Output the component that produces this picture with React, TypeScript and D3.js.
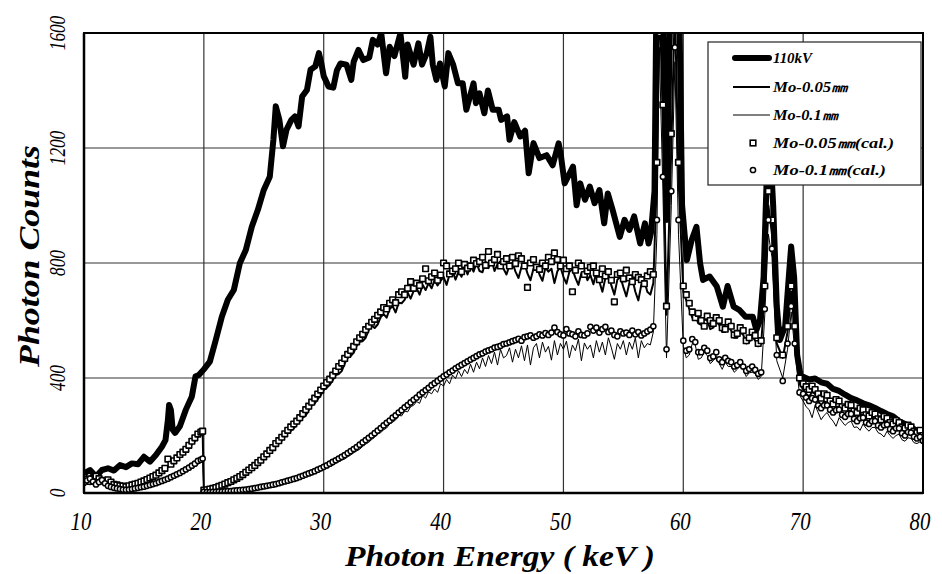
import React from 'react';
import * as d3 from 'd3';

// ---------- data ----------
const xTicks = [10, 20, 30, 40, 50, 60, 70, 80];
const yTicks = [0, 400, 800, 1200, 1600];

const energy110 = [
  10, 10.5, 11, 11.5, 12, 12.5, 13, 13.5, 14, 14.5, 15, 15.5, 16, 16.5, 16.8, 17, 17.1, 17.25, 17.4, 17.6,
  18, 18.5, 19, 19.3, 19.6, 20, 20.5, 21, 21.5, 22, 22.5, 23, 23.5, 24, 24.5, 25, 25.5, 25.8, 26, 26.3,
  26.6, 26.9, 27.3, 27.6, 27.9, 28.2, 28.6, 28.9, 29.3, 29.6, 29.8,
  30, 30.4, 30.8, 31.1, 31.4, 31.9, 32.3, 32.5, 32.9, 33.3, 33.8, 34.1, 34.5, 34.8, 35.2, 35.5, 35.9, 36.4,
  36.8, 37, 37.5, 37.9, 38.2, 38.6, 38.9, 39.1, 39.4, 39.7, 40.1, 40.4, 40.8, 41.2, 41.6, 41.9, 42.5, 42.7,
  43, 43.4, 43.7, 44.1, 44.6, 44.8, 45.3, 45.5, 45.9, 46.4, 46.8, 47.1, 47.5, 48, 48.6, 49.1, 49.6, 49.8,
  50.1, 50.5, 50.8, 51.1, 51.4, 51.8, 52.2, 52.6, 53, 53.4, 53.7, 54.1, 54.7, 55.1, 55.5, 55.9, 56.4, 56.8,
  57.1, 57.3, 57.6, 57.8, 58, 58.25, 58.6, 59, 59.3, 59.6, 59.9, 60.3, 60.7, 61.1, 61.4, 61.65, 62.2, 62.8,
  63.3, 63.7, 64.2, 64.7, 65.2, 65.8, 66.1, 66.4, 66.7, 67, 67.25, 67.5, 67.8, 68.05, 68.5, 68.8, 69, 69.25,
  69.5, 69.85, 70, 70.5, 71, 71.5, 72, 72.5, 73, 73.5, 74, 74.5, 75, 75.5, 76, 76.5, 77, 77.5, 78, 78.5,
  79, 79.5, 80,
];
const counts110 = [
  68, 80, 57, 80, 86, 78, 97, 90, 103, 100, 126, 109, 132, 161, 184, 254, 306, 289, 220, 209,
  232, 290, 336, 405, 411, 430, 457, 533, 613, 672, 706, 799, 845, 926, 984, 1054, 1100, 1228, 1345, 1298,
  1206, 1264, 1298, 1310, 1275, 1379, 1402, 1472, 1484, 1530, 1495,
  1450, 1414, 1410, 1470, 1494, 1490, 1437, 1500, 1541, 1506, 1515, 1576, 1560, 1599, 1460, 1552, 1520, 1599,
  1448, 1560, 1490, 1564, 1490, 1530, 1587, 1490, 1437, 1494, 1414, 1530, 1490, 1425, 1425, 1333, 1425, 1356,
  1390, 1321, 1400, 1333, 1333, 1298, 1310, 1229, 1290, 1240, 1260, 1112, 1217, 1165, 1175, 1140, 1216, 1170,
  1077, 1110, 1135, 1001, 1077, 1020, 1066, 1008, 1054, 938, 1042, 985, 891, 950, 915, 962, 868, 938,
  868, 904, 1050, 1900, 2600, 1900, 950, 1900, 2600, 1900, 1000, 810, 880, 926, 800, 741, 753, 718,
  648, 720, 648, 636, 613, 613, 567, 602, 750, 1150, 1200, 1000, 650, 532, 580, 750, 857, 750,
  480, 393, 404, 395, 398, 385, 380, 362, 355, 342, 330, 322, 312, 305, 296, 285, 275, 267, 250, 240,
  230, 215, 197,
];

const energyMo = [
  10, 10.25, 10.5, 10.75, 11, 11.25, 11.5, 11.75, 12, 12.25, 12.5, 12.75, 13, 13.25, 13.5, 13.75,
  14, 14.25, 14.5, 14.75, 15, 15.25, 15.5, 15.75, 16, 16.25, 16.5, 16.75, 17, 17.25, 17.5, 17.75,
  18, 18.25, 18.5, 18.75, 19, 19.25, 19.5, 19.75, 19.9, 20,
  20.25, 20.5, 20.75, 21, 21.25, 21.5, 21.75, 22, 22.25, 22.5,
  22.75, 23, 23.25, 23.5, 23.75, 24, 24.25, 24.5, 24.75, 25,
  25.25, 25.5, 25.75, 26, 26.25, 26.5, 26.75, 27, 27.25, 27.5,
  27.75, 28, 28.25, 28.5, 28.75, 29, 29.25, 29.5, 29.75, 30,
  30.25, 30.5, 30.75, 31, 31.25, 31.5, 31.75, 32, 32.25, 32.5,
  32.75, 33, 33.25, 33.5, 33.75, 34, 34.25, 34.5, 34.75, 35,
  35.25, 35.5, 35.75, 36, 36.25, 36.5, 36.75, 37, 37.25, 37.5,
  37.75, 38, 38.25, 38.5, 38.75, 39, 39.25, 39.5, 39.75, 40,
  40.25, 40.5, 40.75, 41, 41.25, 41.5, 41.75, 42, 42.25, 42.5,
  42.75, 43, 43.25, 43.5, 43.75, 44, 44.25, 44.5, 44.75, 45,
  45.25, 45.5, 45.75, 46, 46.25, 46.5, 46.75, 47, 47.25, 47.5,
  47.75, 48, 48.25, 48.5, 48.75, 49, 49.25, 49.5, 49.75, 50,
  50.25, 50.5, 50.75, 51, 51.25, 51.5, 51.75, 52, 52.25, 52.5,
  52.75, 53, 53.25, 53.5, 53.75, 54, 54.25, 54.5, 54.75, 55,
  55.25, 55.5, 55.75, 56, 56.25, 56.5, 56.75, 57, 57.25, 57.5,
  57.8, 58, 58.3, 58.6, 59, 59.3, 59.6,
  60, 60.25, 60.5, 60.75, 61, 61.25, 61.5, 61.75, 62, 62.25, 62.5, 62.75, 63, 63.25,
  63.5, 63.75, 64, 64.25, 64.5, 64.75, 65, 65.25, 65.5, 65.75, 66, 66.25, 66.5,
  66.8, 67.1, 67.4, 67.8, 68.3, 68.7, 69, 69.3, 69.7,
  70, 70.25, 70.5, 70.75, 71, 71.25, 71.5, 71.75, 72, 72.25, 72.5, 72.75, 73, 73.25,
  73.5, 73.75, 74, 74.25, 74.5, 74.75, 75, 75.25, 75.5, 75.75, 76, 76.25, 76.5, 76.75,
  77, 77.25, 77.5, 77.75, 78, 78.25, 78.5, 78.75, 79, 79.25, 79.5, 79.75, 80,
];

const mo005 = [
  48, 40, 30, 42, 52, 44, 34, 38, 44, 36, 26, 24, 22, 20, 18, 20, 24, 26, 28, 32,
  36, 40, 46, 50, 56, 64, 72, 80, 90, 96, 104, 115, 126, 135, 146, 156, 168, 180, 196, 204, 210, 8,
  10, 12, 14, 16, 20, 24, 27, 32, 36, 42,
  46, 52, 58, 66, 72, 82, 88, 98, 106, 120,
  128, 138, 150, 165, 172, 182, 196, 210, 216, 225,
  238, 248, 262, 270, 288, 305, 312, 326, 340, 358,
  366, 376, 392, 410, 414, 424, 450, 470, 476, 488,
  512, 526, 528, 540, 566, 582, 574, 586, 612, 622,
  610, 640, 650, 628, 662, 660, 672, 698, 676, 702,
  712, 690, 724, 706, 730, 712, 740, 722, 738, 752,
  724, 760, 772, 742, 770, 752, 788, 760, 790, 770,
  800, 772, 768, 806, 782, 812, 772, 796, 806, 780,
  760, 792, 800, 770, 748, 786, 798, 764, 740, 780,
  792, 760, 738, 784, 770, 780, 730, 772, 786, 752,
  728, 770, 778, 748, 724, 765, 772, 740, 758, 726,
  768, 735, 700, 748, 760, 722, 690, 742, 752, 716,
  684, 730, 744, 700, 670, 725, 738, 700, 690, 730,
  1100, 1750, 1300, 620, 1200, 1700, 1100,
  700, 670, 640, 610, 620, 590, 585, 605, 600, 570, 575, 595, 585, 560,
  560, 580, 565, 540, 540, 560, 550, 520, 525, 545, 530, 510, 520,
  700, 1000, 900, 520, 470, 560, 700, 560, 380,
  360, 345, 335, 352, 345, 320, 300, 318, 315, 296, 285, 300, 300, 278,
  270, 288, 285, 262, 262, 276, 270, 252, 250, 264, 258, 238, 236, 250,
  245, 228, 225, 236, 232, 212, 210, 222, 218, 200, 195, 205, 190,
];
const mo005Cal = [
  55, 48, 40, 50, 58, 50, 42, 44, 46, 38, 30, 28, 25, 24, 22, 25, 28, 31, 34, 38,
  42, 47, 52, 57, 62, 70, 78, 86, 118, 100, 112, 122, 134, 142, 152, 166, 180, 192, 205, 212, 215, 10,
  11, 14, 16, 19, 23, 27, 31, 36, 40, 46,
  51, 57, 64, 72, 80, 88, 96, 106, 114, 126,
  136, 148, 158, 172, 182, 194, 206, 218, 230, 240,
  250, 262, 276, 290, 302, 316, 330, 344, 358, 372,
  384, 396, 410, 424, 440, 452, 468, 482, 496, 510,
  526, 540, 552, 568, 580, 594, 604, 618, 630, 645,
  640, 660, 672, 662, 690, 700, 690, 712, 735, 712,
  730, 722, 745, 780, 738, 752, 765, 740, 758, 800,
  790, 762, 772, 780, 800, 770, 795, 782, 790, 810,
  798, 805, 820, 792, 840, 800, 812, 830, 790, 805,
  815, 790, 820, 798, 825, 815, 790, 715, 800, 812,
  785, 778, 800, 790, 820, 805, 835, 812, 790, 810,
  780, 790, 700, 775, 800, 790, 760, 772, 785, 790,
  765, 742, 780, 755, 770, 740, 665, 760, 765, 745,
  775, 748, 735, 760, 750, 742, 728, 755, 770, 760,
  1150, 1800, 1350, 650, 1250, 1750, 1150,
  720, 690, 660, 630, 610, 625, 600, 580, 615, 600, 590, 610, 600, 575,
  570, 595, 580, 550, 555, 575, 565, 530, 540, 560, 548, 520, 530,
  720, 1050, 950, 540, 480, 580, 720, 580, 400,
  380, 370, 360, 372, 360, 345, 330, 345, 340, 320, 310, 325, 320, 300,
  295, 308, 305, 285, 280, 295, 290, 272, 268, 280, 275, 258, 255, 266,
  260, 245, 240, 252, 245, 230, 225, 236, 230, 215, 210, 218, 200,
];
const mo01 = [
  32, 40, 46, 34, 26, 34, 42, 30, 22, 18, 16, 14, 12, 10, 9, 10, 11, 12, 14, 16,
  18, 21, 24, 27, 30, 34, 38, 42, 46, 50, 55, 60, 66, 71, 76, 82, 88, 94, 100, 105, 108, 3,
  2, 3, 3, 4, 4, 5, 5, 6, 6, 7,
  8, 9, 10, 11, 12, 14, 15, 17, 18, 20,
  22, 24, 26, 28, 30, 33, 35, 38, 41, 44,
  47, 50, 53, 57, 60, 64, 68, 72, 77, 82,
  86, 92, 96, 103, 108, 114, 118, 126, 132, 140,
  146, 152, 162, 170, 176, 186, 194, 205, 210, 220,
  226, 240, 246, 254, 270, 268, 285, 282, 300, 305,
  318, 312, 340, 330, 352, 345, 362, 350, 380, 372,
  395, 380, 410, 398, 425, 405, 430, 415, 448, 420,
  455, 432, 470, 440, 478, 450, 490, 445, 500, 470,
  478, 505, 455, 500, 470, 512, 460, 515, 445, 505,
  520, 470, 525, 490, 510, 462, 530, 480, 520, 500,
  528, 470, 515, 495, 535, 460, 522, 500, 515, 470,
  530, 490, 525, 480, 540, 505, 465, 520, 500, 530,
  480, 525, 500, 540, 470, 530, 505, 520, 515, 560,
  900, 1550, 1050, 470, 1000, 1500, 900,
  510, 470, 480, 520, 515, 465, 470, 490, 478, 450, 460, 475, 450, 430,
  455, 440, 440, 420, 430, 445, 428, 405, 418, 420, 415, 395, 405,
  620, 900, 820, 460, 400, 500, 630, 500, 340,
  320, 300, 290, 262, 305, 280, 255, 270, 280, 262, 250, 232, 262, 248,
  235, 245, 250, 228, 230, 218, 240, 225, 215, 228, 228, 210, 205, 195,
  215, 200, 190, 200, 205, 185, 180, 192, 190, 175, 172, 178, 168,
];
const mo01Cal = [
  36, 44, 50, 40, 30, 38, 45, 34, 25, 21, 18, 16, 14, 12, 11, 12, 14, 16, 18, 20,
  22, 25, 28, 31, 34, 38, 42, 46, 50, 55, 60, 65, 70, 76, 82, 88, 95, 102, 112, 116, 120, 4,
  3, 3, 4, 4, 5, 5, 6, 7, 7, 8,
  9, 10, 11, 12, 14, 15, 17, 19, 21, 23,
  25, 27, 29, 31, 34, 37, 40, 43, 46, 49,
  52, 56, 60, 64, 68, 72, 76, 81, 86, 91,
  96, 102, 108, 114, 120, 126, 132, 139, 146, 153,
  160, 168, 176, 184, 192, 200, 208, 217, 226, 235,
  244, 252, 262, 270, 280, 288, 298, 306, 315, 324,
  332, 342, 350, 358, 366, 375, 382, 390, 398, 406,
  412, 420, 426, 434, 440, 446, 452, 458, 464, 470,
  476, 482, 486, 492, 496, 500, 506, 508, 512, 518,
  520, 524, 528, 532, 536, 530, 542, 545, 548, 540,
  545, 552, 548, 556, 550, 558, 575, 560, 552, 548,
  570, 555, 552, 545, 562, 550, 548, 555, 578, 565,
  575, 558, 570, 578, 560, 565, 550, 545, 562, 555,
  558, 550, 565, 552, 560, 548, 555, 562, 568, 580,
  950, 1600, 1100, 500, 1050, 1550, 950,
  530, 495, 500, 535, 525, 490, 490, 505, 495, 470, 475, 490, 465, 455,
  470, 460, 455, 440, 445, 455, 440, 425, 432, 440, 428, 415, 420,
  640, 950, 850, 480, 390, 520, 650, 520, 350,
  345, 332, 320, 330, 325, 305, 295, 305, 305, 290, 280, 288, 290, 272,
  265, 275, 275, 258, 250, 260, 262, 245, 240, 250, 250, 235, 228, 236,
  238, 222, 215, 225, 225, 208, 200, 212, 210, 196, 190, 195, 182,
];

const legendLabels = ['110kV', 'Mo-0.05㎜', 'Mo-0.1㎜', 'Mo-0.05㎜(cal.)', 'Mo-0.1㎜(cal.)'];

// ---------- chart ----------
const W = 942;
const H = 574;
const L = 84, R = 923, T = 33, B = 493;
const FONT = '"Liberation Serif", "DejaVu Serif", serif';

export default function App() {
  const x = d3.scaleLinear().domain([10, 80]).range([L, R]);
  const y = d3.scaleLinear().domain([0, 1600]).range([B, T]);

  const path = (xs: number[], ys: number[]) =>
    d3.line<number>().x((_, i) => x(xs[i])).y((d) => y(d))(ys) || '';

  const legendY = [58, 87, 115, 143, 170];
  const legendW = [39, 75, 65, 121, 113];

  return (
    <div style={{ position: 'absolute', left: 0, top: 0 }}>
      <svg width={W} height={H} viewBox={`0 0 ${W} ${H}`} style={{ display: 'block', background: '#fff' }}>
        <defs>
          <clipPath id="plot">
            <rect x={L} y={T} width={R - L} height={B - T} />
          </clipPath>
        </defs>
        <rect x={0} y={0} width={W} height={H} fill="#fff" />
        {/* grid */}
        {xTicks.slice(1, -1).map((t) => (
          <line key={'gx' + t} x1={x(t)} x2={x(t)} y1={T} y2={B} stroke="#333" strokeWidth={1.2} />
        ))}
        {yTicks.slice(1, -1).map((t) => (
          <line key={'gy' + t} x1={L} x2={R} y1={y(t)} y2={y(t)} stroke="#333" strokeWidth={1.2} />
        ))}
        <g clipPath="url(#plot)" fill="none" strokeLinejoin="round" strokeLinecap="round">
          <path d={path(energy110, counts110)} stroke="#000" strokeWidth={6} />
          <path d={path(energyMo, mo005)} stroke="#000" strokeWidth={2} />
          <path d={path(energyMo, mo01)} stroke="#000" strokeWidth={1} />
          {energyMo.map((e, i) => (
            <rect key={'s' + i} x={x(e) - 2.8} y={y(mo005Cal[i]) - 2.8} width={5.6} height={5.6}
              fill="#fff" stroke="#000" strokeWidth={1.6} />
          ))}
          {energyMo.map((e, i) => (
            <circle key={'c' + i} cx={x(e)} cy={y(mo01Cal[i])} r={2.6}
              fill="#fff" stroke="#000" strokeWidth={1.5} />
          ))}
        </g>
        {/* frame */}
        <rect x={L} y={T} width={R - L} height={B - T} fill="none" stroke="#000" strokeWidth={2} />
        <line x1={L} x2={L} y1={T} y2={B} stroke="#000" strokeWidth={2.5} />
        <line x1={L} x2={R} y1={B} y2={B} stroke="#000" strokeWidth={2.5} />

        {/* y tick labels (rotated) */}
        {yTicks.map((t) => (
          <text key={'yl' + t} transform={`translate(65,${y(t)}) rotate(-90) scale(0.75,1)`}
            textAnchor="middle" fontFamily={FONT} fontStyle="italic" fontSize={23} fill="#000">
            {t}
          </text>
        ))}
        {/* x tick labels */}
        {xTicks.map((t) => (
          <text key={'xl' + t} transform={`translate(${x(t) - 3},530) scale(0.8,1)`}
            textAnchor="middle" fontFamily={FONT} fontStyle="italic" fontSize={26} fill="#000">
            {t}
          </text>
        ))}
        {/* axis titles */}
        <text x={500} y={566} textAnchor="middle" fontFamily={FONT} fontStyle="italic" fontWeight="bold"
          fontSize={29} textLength={310} lengthAdjust="spacingAndGlyphs">
          Photon Energy ( keV )
        </text>
        <text transform="translate(39,256) rotate(-90)" textAnchor="middle" fontFamily={FONT}
          fontStyle="italic" fontWeight="bold" fontSize={29} textLength={222} lengthAdjust="spacingAndGlyphs">
          Photon Counts
        </text>

        {/* legend */}
        <g>
          <rect x={708} y={42} width={213} height={143} fill="#fff" stroke="#222" strokeWidth={1.2} />
          <line x1={735} x2={769} y1={legendY[0]} y2={legendY[0]} stroke="#000" strokeWidth={6} strokeLinecap="round" />
          <line x1={733} x2={770} y1={legendY[1]} y2={legendY[1]} stroke="#000" strokeWidth={2} />
          <line x1={733} x2={770} y1={legendY[2]} y2={legendY[2]} stroke="#000" strokeWidth={1} />
          <rect x={753 - 2.8} y={legendY[3] - 2.8} width={5.6} height={5.6} fill="#fff" stroke="#000" strokeWidth={1.6} />
          <circle cx={753} cy={legendY[4]} r={2.6} fill="#fff" stroke="#000" strokeWidth={1.5} />
          {legendLabels.map((s, i) => (
            <text key={'lg' + i} x={773} y={legendY[i] + 5} fontFamily={FONT} fontStyle="italic" fontWeight="bold"
              fontSize={15} textLength={legendW[i]} lengthAdjust="spacingAndGlyphs" fill="#000">
              {s}
            </text>
          ))}
        </g>
      </svg>
    </div>
  );
}
